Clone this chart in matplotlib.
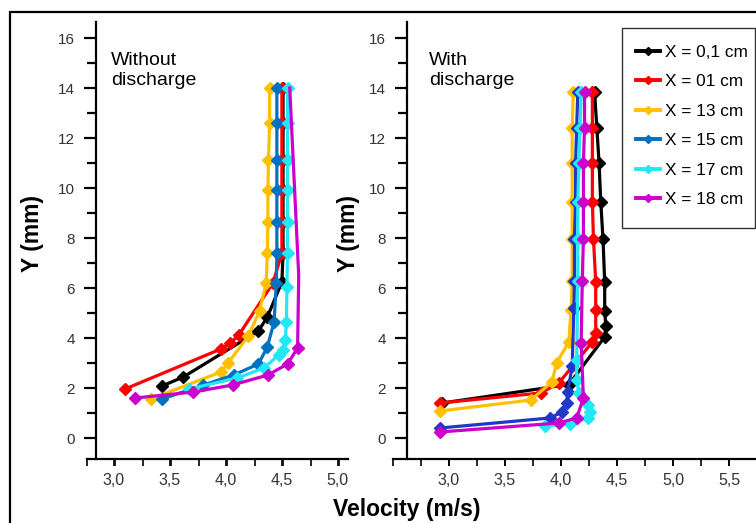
import numpy as np
import matplotlib.pyplot as plt
from matplotlib.lines import Line2D
from matplotlib.patches import Rectangle

plt.rcParams['font.family'] = ['Liberation Sans', 'DejaVu Sans']

# series names and colours
labels = ['X = 0,1 cm', 'X = 01 cm', 'X = 13 cm', 'X = 15 cm', 'X = 17 cm', 'X = 18 cm']
colors = ['#000000', '#FF0000', '#FFC000', '#0070C0', '#22E8F5', '#CC00CC']
colors_right = ['#000000', '#FF0000', '#FFC000', '#2038C8', '#22E8F5', '#CC00CC']

# Without discharge: velocity (m/s) and height (mm)
v_wo = [
    [3.43, 3.62, 4.29, 4.37, 4.50, 4.51, 4.51, 4.51, 4.51, 4.51, 4.51],
    [3.10, 3.955, 4.04, 4.115, 4.42, 4.50, 4.50, 4.50, 4.50, 4.50, 4.50],
    [3.33, 3.955, 4.02, 4.20, 4.30, 4.36, 4.37, 4.375, 4.375, 4.38, 4.39, 4.39],
    [3.43, 3.80, 4.07, 4.29, 4.37, 4.43, 4.45, 4.455, 4.455, 4.455, 4.455, 4.455, 4.455],
    [3.67, 4.10, 4.34, 4.47, 4.51, 4.53, 4.54, 4.545, 4.55, 4.55, 4.55, 4.55, 4.55, 4.55],
    [3.19, 3.71, 4.06, 4.375, 4.55, 4.64, 4.65, 4.57],
]
y_wo = [
    [2.08, 2.44, 4.28, 4.84, 6.24, 7.4, 8.64, 9.92, 11.12, 12.6, 14.0],
    [1.96, 3.56, 3.8, 4.12, 6.2, 7.4, 8.64, 9.92, 11.12, 12.6, 14.0],
    [1.56, 2.64, 3.0, 4.08, 5.08, 6.2, 7.4, 8.64, 9.92, 11.12, 12.6, 14.0],
    [1.56, 2.12, 2.52, 2.96, 3.64, 4.64, 6.2, 7.4, 8.64, 9.92, 11.12, 12.6, 14.0],
    [1.96, 2.4, 2.8, 3.32, 3.52, 3.92, 4.64, 6.04, 7.4, 8.64, 9.92, 11.12, 12.6, 14.0],
    [1.6, 1.84, 2.12, 2.52, 2.96, 3.6, 6.5, 14.0],
]
n_marked_wo = [11, 11, 12, 13, 14, 6]

# With discharge
v_w = [
    [2.94, 4.07, 4.39, 4.40, 4.39, 4.39, 4.375, 4.355, 4.34, 4.32, 4.30],
    [2.92, 3.82, 3.98, 4.28, 4.31, 4.31, 4.31, 4.29, 4.28, 4.28, 4.28, 4.28],
    [2.92, 3.73, 3.92, 3.96, 4.07, 4.09, 4.10, 4.10, 4.10, 4.10, 4.10, 4.11],
    [2.92, 3.90, 4.01, 4.05, 4.06, 4.10, 4.115, 4.12, 4.12, 4.13, 4.13, 4.14, 4.15],
    [3.86, 4.08, 4.24, 4.26, 4.24, 4.16, 4.14, 4.14, 4.15, 4.15, 4.15, 4.16, 4.17, 4.18],
    [2.92, 3.98, 4.14, 4.20, 4.18, 4.19, 4.20, 4.20, 4.20, 4.21, 4.21],
]
y_w = [
    [1.4, 2.14, 4.04, 4.48, 5.08, 6.24, 7.96, 9.44, 11.0, 12.4, 13.84],
    [1.4, 1.8, 2.2, 3.84, 4.2, 5.12, 6.24, 7.96, 9.44, 11.0, 12.4, 13.84],
    [1.08, 1.52, 2.24, 3.0, 3.84, 5.12, 6.28, 7.96, 9.44, 11.0, 12.4, 13.84],
    [0.4, 0.8, 1.04, 1.4, 1.84, 2.88, 5.2, 6.28, 7.96, 9.44, 11.0, 12.4, 13.84],
    [0.48, 0.56, 0.8, 1.04, 1.32, 1.8, 2.32, 3.12, 6.28, 7.96, 9.44, 11.0, 12.4, 13.84],
    [0.24, 0.6, 0.8, 1.6, 3.8, 6.28, 7.96, 9.44, 11.0, 12.4, 13.84],
]

y_ticks = [0, 2, 4, 6, 8, 10, 12, 14, 16]
x_ticks_left = [3.0, 3.5, 4.0, 4.5, 5.0]
x_ticks_right = [3.0, 3.5, 4.0, 4.5, 5.0, 5.5]
x_ticklabels_left = ['3,0', '3,5', '4,0', '4,5', '5,0']
x_ticklabels_right = ['3,0', '3,5', '4,0', '4,5', '5,0', '5,5']

W, H = 756, 523
fig = plt.figure(figsize=(W / 100, H / 100), dpi=100)

# outer frame (cropped on right and bottom)
fig.patches.append(Rectangle((10 / W, -0.1), 1.2, 1.1 - 12 / H, transform=fig.transFigure,
                             fill=False, edgecolor='black', linewidth=1.6, zorder=0))


def setup_axes(ax, xlim, ycross, xticks, xlabels):
    ax.set_xlim(*xlim)
    ax.set_ylim(-0.84, 16.64)
    ax.spines['top'].set_visible(False)
    ax.spines['right'].set_visible(False)
    ax.spines['left'].set_position(('data', ycross))
    for s in ('left', 'bottom'):
        ax.spines[s].set_linewidth(1.6)
    ax.set_yticks(y_ticks)
    ax.set_yticks(np.arange(1, 16, 2), minor=True)
    ax.set_xticks(xticks)
    ax.set_xticklabels(xlabels)
    ax.set_xticks(np.arange(xlim[0] + 0.001, xlim[1], 0.25), minor=True)
    ax.tick_params(axis='y', which='major', direction='out', length=9, width=1.6, pad=6,
                   labelsize=11, labelcolor='#333333')
    ax.tick_params(axis='y', which='minor', direction='out', length=6.5, width=1.6)
    ax.tick_params(axis='x', which='major', direction='out', length=5, width=1.2, pad=5,
                   labelsize=11.5, labelcolor='#333333')
    ax.tick_params(axis='x', which='minor', direction='out', length=5, width=1.2)
    ax.patch.set_alpha(0)


# left panel: without discharge
ax1 = fig.add_axes([87 / W, 64 / H, 261 / W, 437 / H])
setup_axes(ax1, (2.76, 5.09), 2.84, x_ticks_left, x_ticklabels_left)
for i in range(6):
    ax1.plot(v_wo[i], y_wo[i], color=colors[i], lw=2.3, marker='D', ms=6,
             markevery=list(range(n_marked_wo[i])))

# right panel: with discharge
ax2 = fig.add_axes([393 / W, 64 / H, 364 / W, 437 / H])
setup_axes(ax2, (2.5, 5.75), 2.625, x_ticks_right, x_ticklabels_right)
for i in range(6):
    ax2.plot(v_w[i], y_w[i], color=colors_right[i], lw=2.3, marker='D', ms=6)

# axis labels
for xp in (32, 348):
    fig.text(xp / W, 1 - 233 / H, 'Y (mm)', rotation=90, ha='center', va='center',
             fontsize=16.5, fontweight='bold')
fig.text(407 / W, 1 - 516 / H, 'Velocity (m/s)', ha='center', va='baseline',
         fontsize=16.5, fontweight='bold')

# panel captions
fig.text(111 / W, 1 - 52 / H, 'Without\ndischarge', ha='left', va='top', fontsize=14,
         linespacing=1.2)
fig.text(429 / W, 1 - 52 / H, 'With\ndischarge', ha='left', va='top', fontsize=14,
         linespacing=1.2)

# legend, with its own box
fig.patches.append(Rectangle((622 / W, 1 - 228 / H), 133 / W, 200 / H, transform=fig.transFigure,
                             facecolor='white', edgecolor='#333333', linewidth=1.0, zorder=3))
handles = [Line2D([], [], color=c, lw=2.8, marker='D', ms=4.5) for c in colors]
leg = fig.legend(handles, labels, loc='upper left', bbox_to_anchor=(622 / W, 1 - 31 / H),
                 fontsize=12.4, frameon=False, handlelength=1.4, handletextpad=0.3,
                 labelspacing=0.84, borderpad=0.8, borderaxespad=0)
leg.set_zorder(4)

fig.savefig('out.png', dpi=100)
